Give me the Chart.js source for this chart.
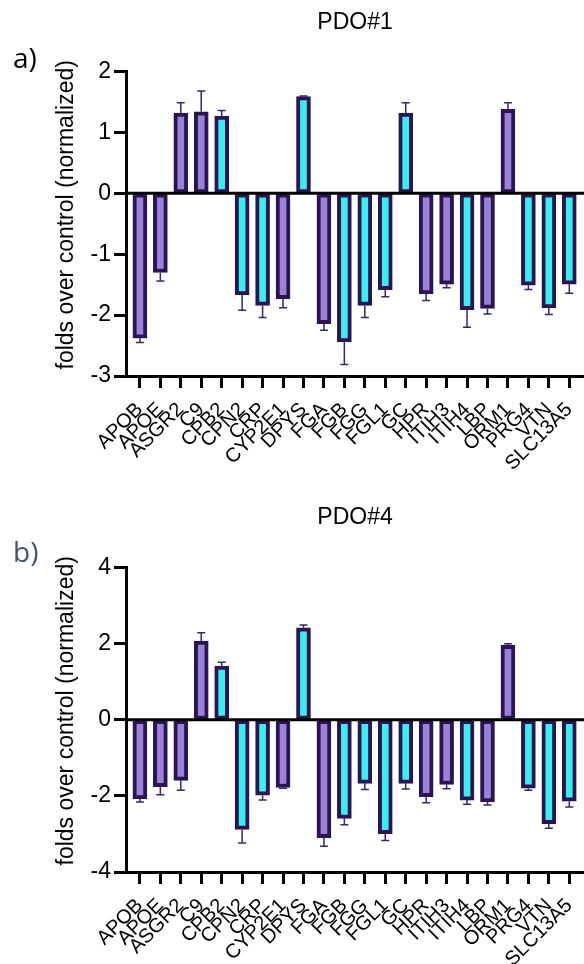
<!DOCTYPE html>
<html>
<head>
<meta charset="utf-8">
<script src="https://cdn.jsdelivr.net/npm/chart.js@4.4.1/dist/chart.umd.min.js"></script>
<style>
  html, body { margin: 0; padding: 0; background: #fff; }
  body { width: 584px; height: 964px; position: relative; overflow: hidden; }
  .panel { position: absolute; left: 0; width: 584px; }
  .panel canvas { display: block; }
  .tag { position: absolute; left: 13px; font-family: "Open Sans", sans-serif; font-size: 28px; line-height: 28px; }
</style>
</head>
<body>
<div class="panel" style="top:0;height:490px"><canvas id="pdo1" width="584" height="490"></canvas></div>
<div class="panel" style="top:490px;height:474px"><canvas id="pdo4" width="584" height="474"></canvas></div>
<div class="tag" style="top:43px;color:#000">a)</div>
<div class="tag" style="top:537px;color:#44546a">b)</div>
<script>
const genes = ['APOB', 'APOE', 'ASGR2', 'C9', 'CPB2', 'CPN2', 'CRP', 'CYP2E1', 'DPYS', 'FGA', 'FGB',
    'FGG', 'FGL1', 'GC', 'HPR', 'ITIH3', 'ITIH4', 'LBP', 'ORM1', 'PRG4', 'VTN', 'SLC13A5'];
// gene group (A = lilac bars, B = cyan bars)
const geneGroup = ['A', 'A', 'A', 'A', 'B', 'B', 'B', 'A', 'B', 'A', 'B',
    'B', 'B', 'B', 'A', 'A', 'B', 'A', 'A', 'B', 'B', 'B'];

const pdo1Values = [-2.38, -1.30, 1.32, 1.34, 1.27, -1.67, -1.84, -1.73, 1.59, -2.14, -2.44,
    -1.84, -1.58, 1.32, -1.65, -1.49, -1.91, -1.89, 1.38, -1.51, -1.88, -1.49];
const pdo1Errors = [0.07, 0.14, 0.17, 0.34, 0.09, 0.25, 0.20, 0.15, 0.01, 0.11, 0.37,
    0.20, 0.12, 0.17, 0.11, 0.06, 0.29, 0.09, 0.11, 0.07, 0.11, 0.15];

const pdo4Values = [-2.08, -1.76, -1.59, 2.07, 1.41, -2.88, -1.98, -1.78, 2.42, -3.10, -2.59,
    -1.67, -2.99, -1.67, -2.02, -1.70, -2.11, -2.16, 1.96, -1.80, -2.73, -2.14];
const pdo4Errors = [0.08, 0.21, 0.26, 0.22, 0.10, 0.36, 0.13, 0.02, 0.07, 0.22, 0.17,
    0.16, 0.18, 0.15, 0.16, 0.11, 0.11, 0.08, 0.04, 0.05, 0.12, 0.15];

const pdo1Ticks = [-3, -2, -1, 0, 1, 2];
const pdo4Ticks = [-4, -2, 0, 2, 4];

const yTitle = 'folds over control (normalized)';
const FONT = '"Liberation Sans"';
const groupFill = { A: '#9b82d8', B: '#38eeee' };

// zero line, error bars and the y title
const barExtras = {
    id: 'barExtras',
    afterDatasetsDraw(chart, args, opts) {
        const { ctx, chartArea, scales: { y } } = chart;
        const y0 = y.getPixelForValue(0);
        ctx.save();
        ctx.strokeStyle = '#000';
        ctx.lineWidth = 3;
        ctx.beginPath();
        ctx.moveTo(chartArea.left, y0);
        ctx.lineTo(chartArea.right, y0);
        ctx.stroke();

        const vals = chart.data.datasets[0].data;
        ctx.strokeStyle = '#3b2668';
        ctx.lineWidth = 1.5;
        chart.getDatasetMeta(0).data.forEach((bar, i) => {
            const v = vals[i].y;
            const dir = v < 0 ? -1 : 1;
            const yEnd = y.getPixelForValue(v + dir * opts.errors[i]);
            ctx.beginPath();
            ctx.moveTo(bar.x, bar.y);
            ctx.lineTo(bar.x, yEnd);
            ctx.moveTo(bar.x - 4, yEnd);
            ctx.lineTo(bar.x + 4, yEnd);
            ctx.stroke();
        });

        ctx.translate(67, (chartArea.top + chartArea.bottom) / 2 - 9);
        ctx.rotate(-Math.PI / 2);
        ctx.fillStyle = '#000';
        ctx.font = '23px ' + FONT;
        ctx.textAlign = 'center';
        ctx.textBaseline = 'middle';
        ctx.fillText(yTitle, 0, 0);
        ctx.restore();
    }
};

function makeChart(id, title, values, errors, ticks, box) {
    return new Chart(document.getElementById(id), {
        type: 'bar',
        data: {
            datasets: [{
                data: values.map((v, i) => ({ x: i, y: v })),
                backgroundColor: geneGroup.map(g => groupFill[g]),
                borderColor: '#2a1552',
                borderWidth: 4,
                borderSkipped: false,
                barThickness: 14
            }]
        },
        options: {
            responsive: false,
            animation: false,
            layout: { padding: 0 },
            plugins: {
                legend: { display: false },
                tooltip: { enabled: false },
                title: {
                    display: true,
                    text: title,
                    color: '#000',
                    fullSize: false,
                    font: { family: FONT, size: 23, weight: 'normal' },
                    padding: { top: box.titleTop, bottom: box.titleBottom }
                },
                barExtras: { errors: errors }
            },
            scales: {
                x: {
                    type: 'linear',
                    offset: false,
                    // GraphPad leaves a small gap before the first and after the last bar
                    min: -0.68,
                    max: genes.length - 0.28,
                    afterBuildTicks(scale) {
                        scale.ticks = genes.map((g, i) => ({ value: i }));
                    },
                    grid: { offset: false, drawOnChartArea: false, tickLength: 12, tickWidth: 3, tickColor: '#000' },
                    border: { display: true, width: 3, color: '#000' },
                    ticks: {
                        autoSkip: false, maxRotation: 45, minRotation: 45, padding: 10,
                        color: '#000', font: { family: FONT, size: 20 },
                        callback: value => genes[value]
                    },
                    afterFit(scale) {
                        scale.height = box.xHeight;
                        scale.paddingLeft = 0;
                        scale.paddingRight = 0;
                    }
                },
                y: {
                    min: ticks[0],
                    max: ticks[ticks.length - 1],
                    afterBuildTicks(scale) {
                        scale.ticks = ticks.map(v => ({ value: v }));
                    },
                    grid: { drawOnChartArea: false, tickLength: 12, tickWidth: 3, tickColor: '#000' },
                    border: { display: true, width: 3, color: '#000' },
                    ticks: { padding: 3, color: '#000', font: { family: FONT, size: 23 } },
                    afterFit(scale) {
                        scale.width = 126;
                    }
                }
            }
        },
        plugins: [barExtras]
    });
}

makeChart('pdo1', 'PDO#1', pdo1Values, pdo1Errors, pdo1Ticks, { titleTop: 9, titleBottom: 35, xHeight: 114 });
makeChart('pdo4', 'PDO#4', pdo4Values, pdo4Errors, pdo4Ticks, { titleTop: 14, titleBottom: 36, xHeight: 92 });
</script>
</body>
</html>
